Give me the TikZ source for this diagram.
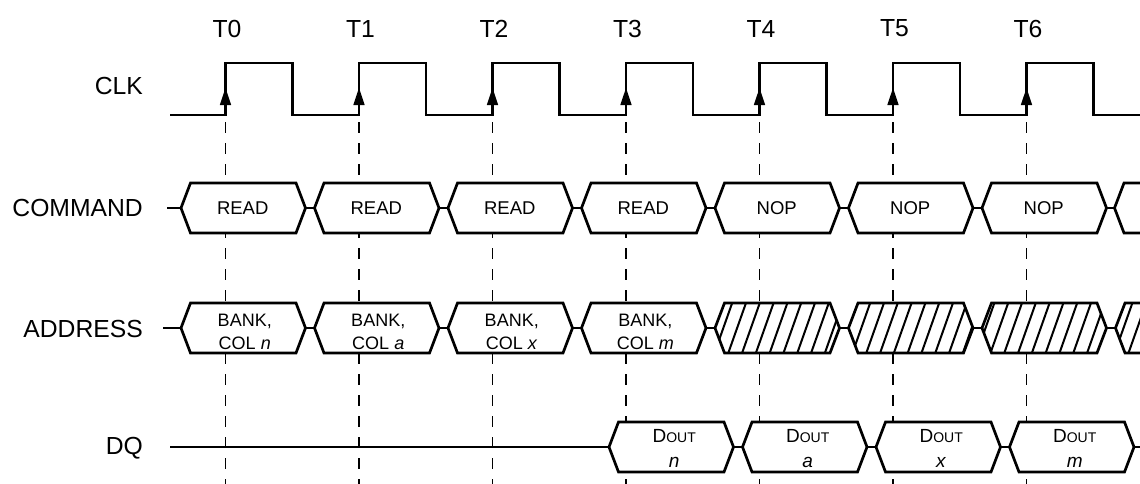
\documentclass[tikz,border=0pt]{standalone}
\usepackage{fontspec}
\setmainfont{Liberation Sans}
\newcommand\hexpath[3]{(#1+4.5,#3) -- (#1+14,#3-25) -- (#2-14,#3-25) -- (#2-4.5,#3) -- (#2-14,#3+25) -- (#1+14,#3+25) -- cycle}
\begin{document}
\begin{tikzpicture}[x=1pt,y=-1pt,
  sig/.style={line width=2.7pt, line join=miter, miter limit=10},
  guide/.style={line width=1.3pt, dash pattern=on 11pt off 10pt},
  rowlbl/.style={font=\fontsize{24.7}{29}\selectfont, anchor=east, inner sep=0pt},
  tlbl/.style={font=\fontsize{24.7}{29}\selectfont, inner sep=0pt},
  cmdtxt/.style={font=\fontsize{18.5}{23}\selectfont, inner sep=0pt},
  addrtxt/.style={font=\fontsize{18}{23}\selectfont, align=center, inner sep=0pt},
  dqtxt/.style={font=\fontsize{19}{25}\selectfont, align=center, inner sep=0pt},
  hatchln/.style={line width=2pt}]
\useasboundingbox (0,0) rectangle (1140,483);
\clip (0,0) rectangle (1140,483);

% clock edge guides and labels
\foreach \k in {0,...,6}{
  \pgfmathsetmacro\tx{225.5+133.5*\k}
  \coordinate (gtop\k) at (\tx,122);
  \coordinate (gbot\k) at (\tx,490);
  \draw[guide] (gtop\k) -- (gbot\k);
  \node[tlbl] (tl\k) at (\tx+1.5,28.5) {T\k};
}

% row labels
\node[rowlbl] (lclk) at (143,86) {CLK};
\node[rowlbl] (lcmd) at (143,208) {COMMAND};
\node[rowlbl] (laddr) at (143,329) {ADDRESS};
\node[rowlbl] (ldq) at (143,448) {DQ};

% clock
\draw[sig] (170,115) foreach \k in {0,...,6}{ -- ({225.5+133.5*\k},115) -- ({225.5+133.5*\k},63) -- ({292.5+133.5*\k},63) -- ({292.5+133.5*\k},115)} -- (1150,115);
\foreach \k in {0,...,6}{
  \fill ({225.5+133.5*\k},88) -- ({219.8+133.5*\k},105) -- ({231.2+133.5*\k},105) -- cycle;
}

% command row
\draw[sig] (167,208) -- (181,208);
\foreach \j/\t in {0/READ,1/READ,2/READ,3/READ,4/NOP,5/NOP,6/NOP}{
  \pgfmathsetmacro\a{176.5+133.5*\j}
  \pgfmathsetmacro\b{\a+133.5}
  \draw[sig,fill=white] \hexpath{\a}{\b}{208};
  \draw[sig] (\b-4.5,208) -- (\b+4.5,208);
  \node[cmdtxt] (cmd\j) at ({(\a+\b)/2-0.5},208) {\t};
}
\draw[sig,fill=white] \hexpath{1110}{1243.5}{208};

% address row
\draw[sig] (163,328) -- (181,328);
\foreach \j/\v in {0/n,1/a,2/x,3/m}{
  \pgfmathsetmacro\a{176.5+133.5*\j}
  \pgfmathsetmacro\b{\a+133.5}
  \draw[sig,fill=white] \hexpath{\a}{\b}{328};
  \draw[sig] (\b-4.5,328) -- (\b+4.5,328);
  \node[addrtxt] (adr\j) at ({(\a+\b)/2+1.5},332) {BANK,\\COL \textit{\v}};
}
\foreach \j in {4,...,7}{
  \pgfmathsetmacro\a{176.5+133.5*\j}
  \pgfmathsetmacro\b{\a+133.5}
  \begin{scope}
    \clip \hexpath{\a}{\b}{328};
    \fill[white] (\a,300) rectangle (\b,356);
    \foreach \h in {-3,...,40}{
      \draw[hatchln] ({728.3+13.8*\h-2.5},360) -- ({728.3+13.8*\h+21.2},293);
    }
  \end{scope}
  \draw[sig] \hexpath{\a}{\b}{328};
  \draw[sig] (\b-4.5,328) -- (\b+4.5,328);
}

% DQ row
\draw[sig] (170,447) -- (609,447);
\foreach \j/\v in {0/n,1/a,2/x,3/m}{
  \pgfmathsetmacro\a{604.5+133.5*\j}
  \pgfmathsetmacro\b{\a+133.5}
  \draw[sig,fill=white] \hexpath{\a}{\b}{447};
  \draw[sig] (\b-4.5,447) -- (\b+4.5,447);
  \node[dqtxt] (dq\j) at ({(\a+\b)/2+3},448.7) {D{\fontsize{14}{25}\selectfont OUT}\\\textit{\v}};
}
\end{tikzpicture}
\end{document}
